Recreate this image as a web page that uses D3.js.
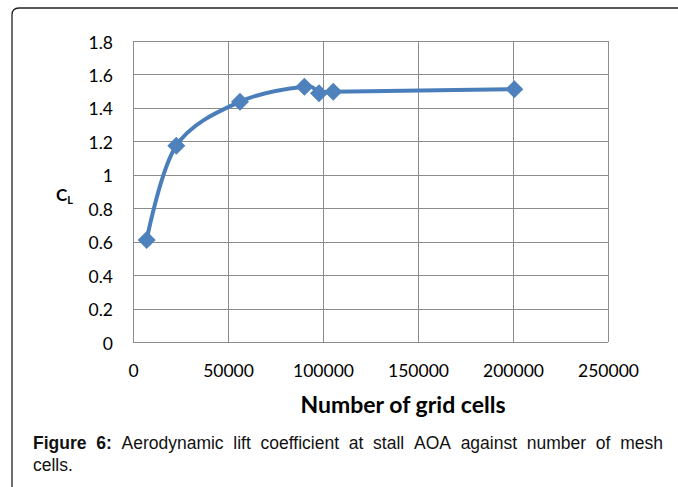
<!DOCTYPE html>
<html><head><meta charset="utf-8">
<script src="https://cdn.jsdelivr.net/npm/d3@7"></script>
<style>body{margin:0;background:#fff}svg{display:block}</style>
</head><body>
<svg id="c" width="678" height="487"></svg>
<script>
const gridCells = [7200, 22800, 56300, 90200, 97900, 105400, 200700];
const liftCoeff = [0.61, 1.174, 1.437, 1.527, 1.488, 1.496, 1.512];
const xTicks = [0, 50000, 100000, 150000, 200000, 250000];
const yTicks = [0, 0.2, 0.4, 0.6, 0.8, 1, 1.2, 1.4, 1.6, 1.8];

const svg = d3.select("#c");
const L = 133, R = 608, T = 41, B = 342;
const x = d3.scaleLinear().domain([0, 250000]).range([L, R]);
const y = d3.scaleLinear().domain([0, 1.8]).range([B, T]);

svg.append("path")
  .attr("d", `M12,487 L12,15 Q12,8 19,8 L678,8`)
  .attr("fill", "none").attr("stroke", "#222").attr("stroke-width", 1.3);

svg.append("g").selectAll("line").data(yTicks).join("line")
  .attr("x1", L).attr("x2", R).attr("y1", d => Math.round(y(d)) + 0.5).attr("y2", d => Math.round(y(d)) + 0.5)
  .attr("stroke", "#8c8c8c").attr("stroke-width", 1);
svg.append("g").selectAll("line").data(xTicks).join("line")
  .attr("y1", T).attr("y2", B).attr("x1", d => Math.round(x(d)) + 0.5).attr("x2", d => Math.round(x(d)) + 0.5)
  .attr("stroke", "#8c8c8c").attr("stroke-width", 1);

const yAxis = svg.append("g").attr("transform", `translate(${L - 20},0)`)
  .call(d3.axisLeft(y).tickValues(yTicks).tickSize(0).tickPadding(0).tickFormat(d => String(+d.toFixed(1))));
const xAxis = svg.append("g").attr("transform", `translate(0,${B + 21})`)
  .call(d3.axisBottom(x).tickValues(xTicks).tickSize(0).tickPadding(0).tickFormat(d => String(d)));
[yAxis, xAxis].forEach(a => {
  a.select(".domain").remove();
  a.selectAll("text").attr("font-family", "Lato, 'Open Sans', sans-serif").attr("font-size", 17.5).attr("fill", "#000");
});
yAxis.selectAll("text").attr("dy", "0.4em").attr("x", 0);
xAxis.selectAll("text").attr("dy", "0.8em");

svg.append("text").attr("x", 403).attr("y", 413).attr("text-anchor", "middle")
  .attr("font-family", "Lato, sans-serif").attr("font-weight", "bold").attr("font-size", 23)
  .text("Number of grid cells");
const cl = svg.append("text").attr("x", 56).attr("y", 201)
  .attr("font-family", "Lato, sans-serif").attr("font-weight", "bold").attr("font-size", 17);
cl.append("tspan").text("C");
cl.append("tspan").attr("font-size", 11).attr("dy", 3).text("L");

const pts = gridCells.map((g, i) => [x(g), y(liftCoeff[i])]);
svg.append("path").attr("d", d3.line().curve(d3.curveCardinal.tension(0))(pts))
  .attr("fill", "none").attr("stroke", "#4a7ebb").attr("stroke-width", 4).attr("stroke-linejoin", "round");

svg.append("g").selectAll("path").data(pts).join("path")
  .attr("transform", d => `translate(${d[0]},${d[1]})`)
  .attr("d", "M0,-9 L9,0 L0,9 L-9,0 Z")
  .attr("fill", "#4f81bd");

const capFont = "'Liberation Sans', Arial, sans-serif";
const capSize = 17.5;
const words = [["Figure", true], ["6:", true], ["Aerodynamic", false], ["lift", false], ["coefficient", false],
  ["at", false], ["stall", false], ["AOA", false], ["against", false], ["number", false], ["of", false], ["mesh", false]];
const capG = svg.append("g");
const nodes = words.map(([t, b]) => capG.append("text").attr("y", 449)
  .attr("font-family", capFont).attr("font-size", capSize).attr("fill", "#111")
  .attr("font-weight", b ? "bold" : "normal").text(t));
const widths = nodes.map(n => n.node().getComputedTextLength());
const total = d3.sum(widths);
const gap = (663 - 33 - total) / (words.length - 1);
let cx = 33;
nodes.forEach((n, i) => { n.attr("x", cx); cx += widths[i] + gap; });
svg.append("text").attr("x", 33).attr("y", 471)
  .attr("font-family", capFont).attr("font-size", capSize).attr("fill", "#111")
  .text("cells.");
</script>
</body></html>
